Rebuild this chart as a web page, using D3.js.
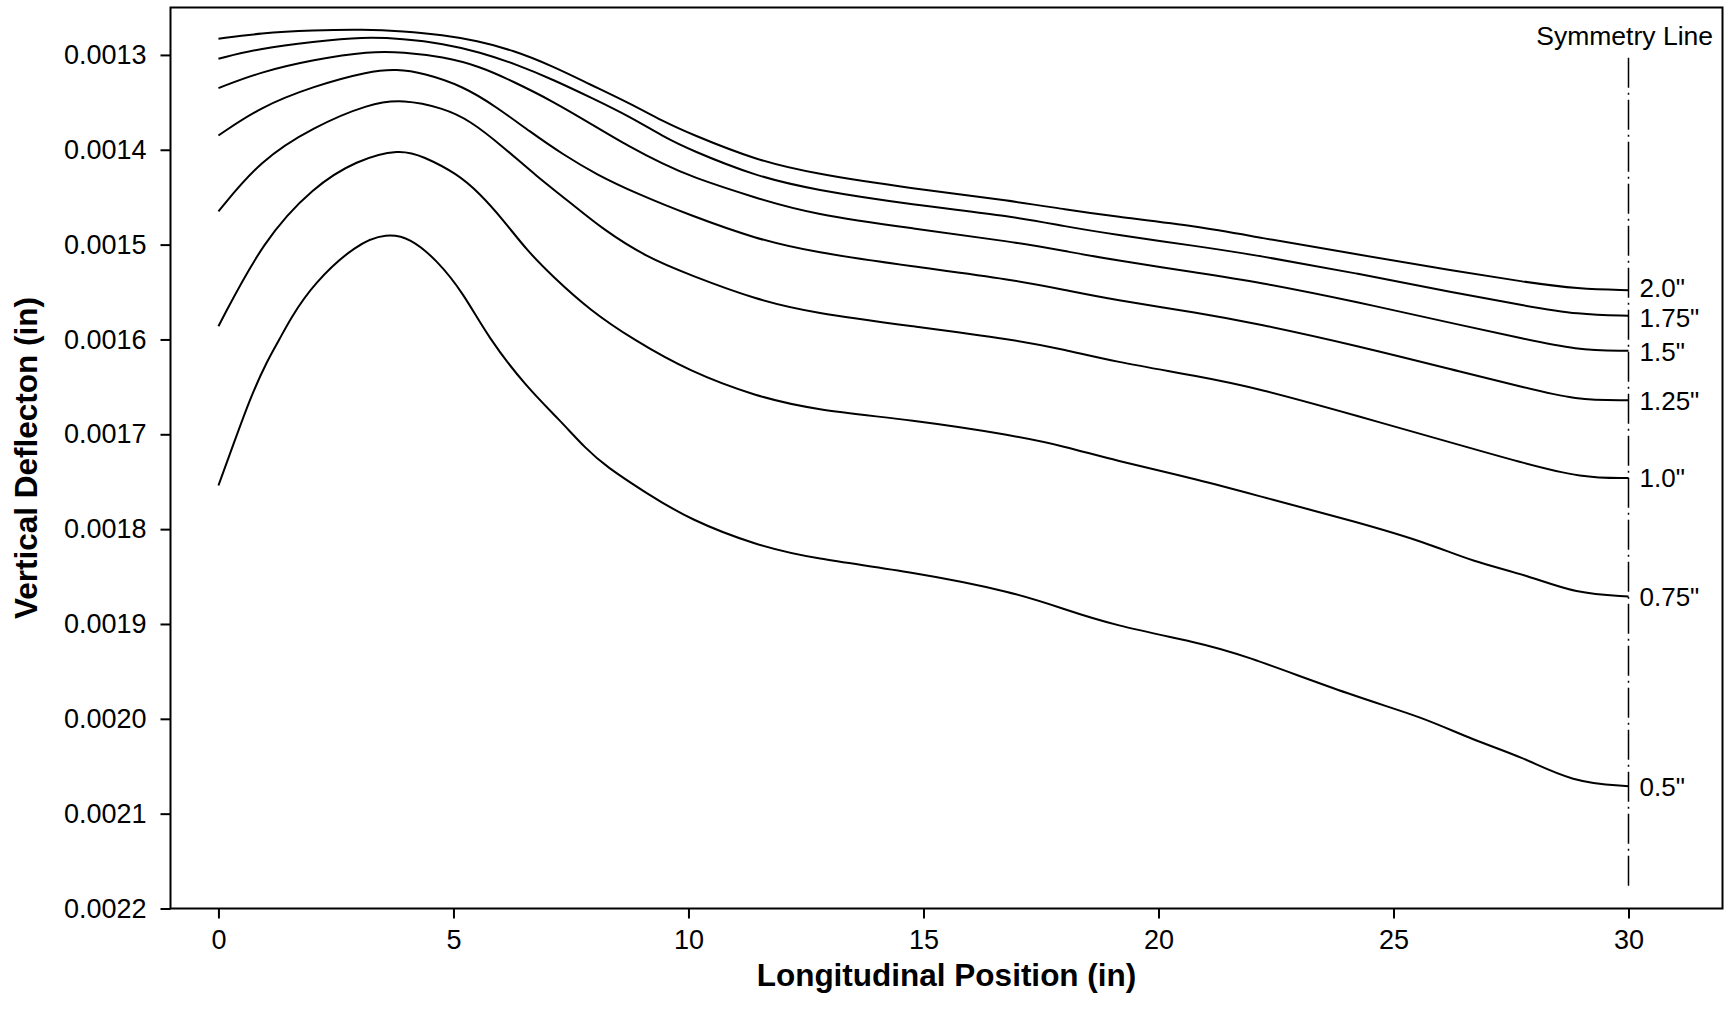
<!DOCTYPE html>
<html>
<head>
<meta charset="utf-8">
<script src="https://cdn.jsdelivr.net/npm/d3@7"></script>
<style>
  body { margin: 0; background: #fff; }
  svg text { font-family: "Liberation Sans", Arial, sans-serif; fill: #000; }
</style>
</head>
<body>
<svg id="chart" width="1731" height="1027"></svg>
<script>
/* etichette delle curve (spessore) */
const seriesLabels = ['2.0"', '1.75"', '1.5"', '1.25"', '1.0"', '0.75"', '0.5"'];

/* posizioni longitudinali (in) e deflessioni verticali (in) */
const pos_2_00 = [0, 0.89, 2.02, 3.08, 3.93, 4.78, 5.49, 6.27, 7.12, 7.90, 8.75, 9.46, 10.03, 11.44, 12.65, 14.77, 16.90, 18.03, 19.02, 20.87, 22.07, 24.19, 26.32, 27.74, 28.94, 30];
const defl_2_00 = [0.001283, 0.001277, 0.001274, 0.001273, 0.001275, 0.001279, 0.001285, 0.001295, 0.001312, 0.001331, 0.001351, 0.001370, 0.001383, 0.001411, 0.001425, 0.001441, 0.001454, 0.001463, 0.001470, 0.001481, 0.001492, 0.001510, 0.001528, 0.001539, 0.001547, 0.001548];

const pos_1_75 = [0, 0.89, 2.02, 3.08, 3.93, 4.78, 5.56, 6.34, 7.12, 7.97, 8.75, 9.46, 10.03, 11.44, 12.65, 14.77, 16.90, 18.03, 19.02, 20.87, 22.07, 24.19, 26.32, 27.74, 28.94, 30];
const defl_1_75 = [0.001304, 0.001293, 0.001286, 0.001281, 0.001283, 0.001288, 0.001297, 0.001310, 0.001326, 0.001346, 0.001365, 0.001386, 0.001400, 0.001428, 0.001442, 0.001458, 0.001470, 0.001481, 0.001489, 0.001502, 0.001511, 0.001530, 0.001551, 0.001564, 0.001574, 0.001575];

const pos_1_50 = [0, 0.89, 2.02, 3.22, 3.93, 4.78, 5.56, 6.27, 7.12, 7.97, 8.75, 9.46, 10.03, 11.44, 12.65, 14.77, 16.90, 18.03, 19.02, 20.87, 22.07, 24.19, 26.53, 27.74, 28.87, 30];
const defl_1_50 = [0.001335, 0.001318, 0.001305, 0.001296, 0.001297, 0.001302, 0.001312, 0.001328, 0.001349, 0.001374, 0.001397, 0.001415, 0.001428, 0.001451, 0.001468, 0.001483, 0.001497, 0.001507, 0.001516, 0.001530, 0.001539, 0.001560, 0.001586, 0.001599, 0.001611, 0.001612];

const pos_1_25 = [0, 0.89, 2.02, 3.22, 3.79, 4.36, 5.21, 5.92, 6.63, 7.33, 8.04, 8.89, 10.03, 11.44, 12.65, 14.77, 16.90, 18.03, 19.02, 20.87, 22.07, 24.19, 26.67, 27.74, 28.87, 30];
const defl_1_25 = [0.001385, 0.001355, 0.001333, 0.001317, 0.001315, 0.001319, 0.001333, 0.001355, 0.001381, 0.001405, 0.001426, 0.001446, 0.001469, 0.001494, 0.001508, 0.001523, 0.001537, 0.001548, 0.001558, 0.001572, 0.001583, 0.001606, 0.001637, 0.001650, 0.001664, 0.001664];

const pos_1_00 = [0, 0.89, 2.02, 3.22, 3.93, 4.78, 5.35, 6.06, 6.77, 7.47, 8.18, 9.10, 10.03, 11.44, 12.65, 14.77, 16.90, 18.03, 19.02, 20.87, 22.07, 24.19, 26.67, 27.74, 29.01, 30];
const defl_1_00 = [0.001465, 0.001411, 0.001376, 0.001351, 0.001347, 0.001356, 0.001369, 0.001397, 0.001428, 0.001455, 0.001484, 0.001513, 0.001532, 0.001558, 0.001572, 0.001586, 0.001600, 0.001611, 0.001623, 0.001639, 0.001651, 0.001680, 0.001715, 0.001730, 0.001746, 0.001746];

const pos_0_75 = [0, 0.96, 2.02, 2.94, 3.86, 4.36, 5.07, 5.56, 6.06, 6.56, 7.12, 7.90, 8.82, 10.03, 11.44, 12.65, 14.77, 16.90, 18.03, 19.02, 20.87, 22.42, 24.19, 25.75, 26.67, 27.88, 28.87, 30];
const defl_0_75 = [0.001586, 0.001495, 0.001439, 0.001411, 0.001399, 0.001407, 0.001425, 0.001446, 0.001474, 0.001506, 0.001534, 0.001569, 0.001600, 0.001634, 0.001660, 0.001674, 0.001685, 0.001701, 0.001713, 0.001727, 0.001748, 0.001769, 0.001792, 0.001815, 0.001834, 0.001849, 0.001868, 0.001871];

const pos_0_50 = [0, 0.33, 0.69, 1.04, 1.31, 1.52, 2.02, 2.94, 3.58, 4.08, 4.64, 5.21, 5.74, 6.55, 7.26, 7.83, 8.25, 9.10, 10.03, 11.44, 12.65, 14.77, 16.90, 18.03, 19.02, 20.87, 21.72, 24.19, 25.61, 26.67, 27.74, 28.80, 30];
const defl_0_50 = [0.001754, 0.001709, 0.001660, 0.001622, 0.001599, 0.001579, 0.001541, 0.001499, 0.001488, 0.001493, 0.001516, 0.001551, 0.001598, 0.001650, 0.001685, 0.001716, 0.001734, 0.001762, 0.001790, 0.001817, 0.001831, 0.001845, 0.001866, 0.001885, 0.001901, 0.001920, 0.001931, 0.001977, 0.001998, 0.002022, 0.002040, 0.002067, 0.002071];

/* tick degli assi */
const xTicks = [0, 5, 10, 15, 20, 25, 30];
const yTicks = [0.0013, 0.0014, 0.0015, 0.0016, 0.0017, 0.0018, 0.0019, 0.0020, 0.0021, 0.0022];

/* linea di simmetria */
const symmetryPos = 30;
const symmetrySpan = [0.001303, 0.002178];

/* piccolo spostamento verticale delle etichette (px) per non sovrapporle */
const labelShift = [-2, 2, 1, 0, 0, 0, 0];

const series = seriesLabels.map((label, i) => ({
    label: label,
    pos: [pos_2_00, pos_1_75, pos_1_50, pos_1_25, pos_1_00, pos_0_75, pos_0_50][i],
    defl: [defl_2_00, defl_1_75, defl_1_50, defl_1_25, defl_1_00, defl_0_75, defl_0_50][i],
    shift: labelShift[i]
}));

const W = 1731, H = 1027;
const margin = { top: 7.5, right: 8.5, bottom: 118.5, left: 170.5 };
const svg = d3.select("#chart");

/* scale: asse y invertito (deflessione cresce verso il basso) */
const x = d3.scaleLinear().domain([-1.02, 32]).range([margin.left, W - margin.right]);
const y = d3.scaleLinear().domain([0.00125, 0.0022]).range([margin.top, H - margin.bottom]);

/* asse x */
const gx = svg.append("g")
    .attr("transform", `translate(0,${H - margin.bottom})`)
    .call(d3.axisBottom(x).tickValues(xTicks).tickSize(10).tickPadding(11).tickFormat(d3.format("d")));
gx.select(".domain").remove();
gx.selectAll("line").attr("stroke-width", 2);
gx.selectAll("text").attr("font-size", 27);

/* asse y */
const gy = svg.append("g")
    .attr("transform", `translate(${margin.left},0)`)
    .call(d3.axisLeft(y).tickValues(yTicks).tickSize(10).tickPadding(14).tickFormat(d3.format(".4f")));
gy.select(".domain").remove();
gy.selectAll("line").attr("stroke-width", 2);
gy.selectAll("text").attr("font-size", 27);

/* cornice */
svg.append("rect")
    .attr("x", margin.left)
    .attr("y", margin.top)
    .attr("width", W - margin.left - margin.right)
    .attr("height", H - margin.top - margin.bottom)
    .attr("fill", "none")
    .attr("stroke", "#000")
    .attr("stroke-width", 2);

/* curve */
const line = d3.line()
    .x(d => x(d[0]))
    .y(d => y(d[1]))
    .curve(d3.curveBasis);

svg.append("g").selectAll("path")
    .data(series)
    .enter()
    .append("path")
    .attr("d", s => line(s.pos.map((p, i) => [p, s.defl[i]])))
    .attr("fill", "none")
    .attr("stroke", "#000")
    .attr("stroke-width", 2);

/* linea di simmetria tratto-punto */
svg.append("line")
    .attr("x1", x(symmetryPos))
    .attr("x2", x(symmetryPos))
    .attr("y1", y(symmetrySpan[0]))
    .attr("y2", y(symmetrySpan[1]))
    .attr("stroke", "#000")
    .attr("stroke-width", 1.5)
    .attr("stroke-dasharray", "30,5,2,5");

svg.append("text")
    .attr("x", 1713)
    .attr("y", 45)
    .attr("text-anchor", "end")
    .attr("font-size", 26.5)
    .text("Symmetry Line");

/* etichette alla fine delle curve */
svg.append("g").selectAll("text")
    .data(series)
    .enter()
    .append("text")
    .attr("x", x(symmetryPos) + 11)
    .attr("y", s => y(s.defl[s.defl.length - 1]) + s.shift)
    .attr("dy", "0.36em")
    .attr("font-size", 26)
    .text(s => s.label);

/* titoli degli assi */
svg.append("text")
    .attr("x", (margin.left + W - margin.right) / 2)
    .attr("y", 986)
    .attr("text-anchor", "middle")
    .attr("font-size", 31.5)
    .attr("font-weight", "bold")
    .text("Longitudinal Position (in)");

svg.append("text")
    .attr("transform", `translate(37,${(margin.top + H - margin.bottom) / 2}) rotate(-90)`)
    .attr("text-anchor", "middle")
    .attr("font-size", 31.5)
    .attr("font-weight", "bold")
    .text("Vertical Deflecton (in)");
</script>
</body>
</html>
